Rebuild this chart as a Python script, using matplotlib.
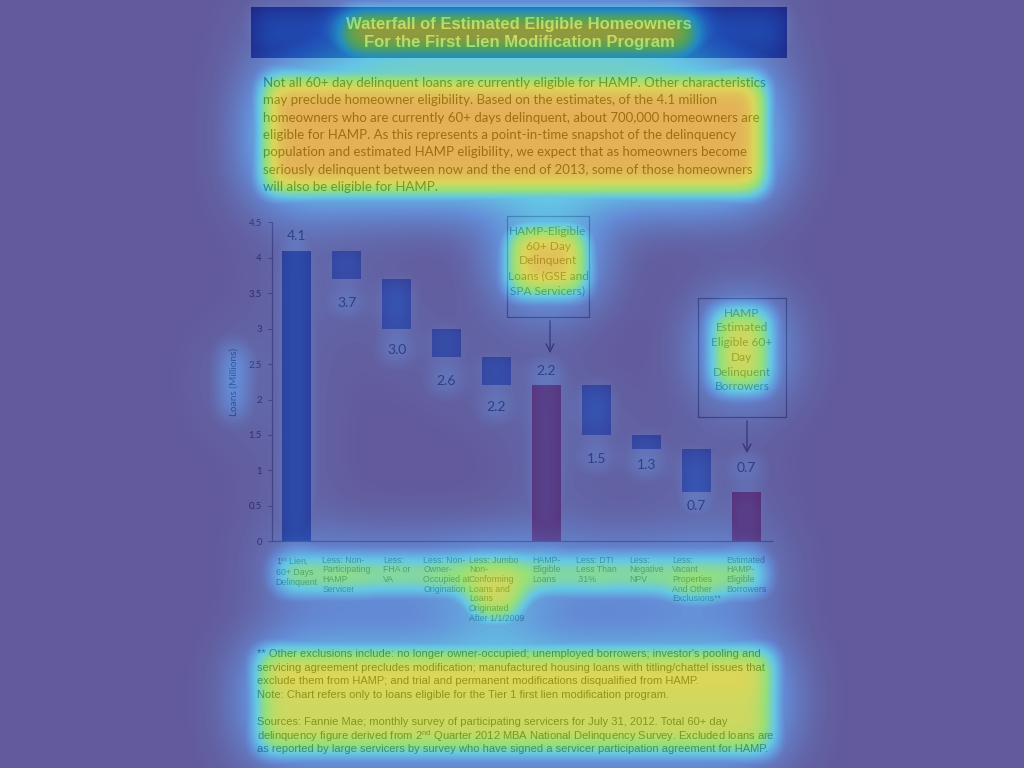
import numpy as np
import matplotlib
matplotlib.use("Agg")
import matplotlib.pyplot as plt
from matplotlib.colors import LinearSegmentedColormap
from matplotlib.patches import Rectangle, FancyArrowPatch
from matplotlib.transforms import blended_transform_factory, Bbox

plt.rcParams['mathtext.fontset'] = 'custom'
plt.rcParams['mathtext.rm'] = 'Liberation Sans'

# ---------------- data ----------------
categories = [
    "1$^{\\mathrm{st}}$ Lien,\n60+ Days\nDelinquent",
    "Less: Non-\nParticipating\nHAMP\nServicer",
    "Less:\nFHA or\nVA",
    "Less: Non-\nOwner-\nOccupied at\nOrigination",
    "Less: Jumbo\nNon-\nConforming\nLoans and\nLoans\nOriginated\nAfter 1/1/2009",
    "HAMP-\nEligible\nLoans",
    "Less: DTI\nLess Than\n 31%",
    "Less:\nNegative\nNPV",
    "Less:\nVacant\nProperties\nAnd Other\nExclusions**",
    "Estimated\nHAMP-\nEligible\nBorrowers",
]
values = [4.1, 3.7, 3.0, 2.6, 2.2, 2.2, 1.5, 1.3, 0.7, 0.7]
is_total = [True, False, False, False, False, True, False, False, False, True]
value_labels = ["4.1", "3.7", "3.0", "2.6", "2.2", "2.2", "1.5", "1.3", "0.7", "0.7"]
yticks = [0, 0.5, 1, 1.5, 2, 2.5, 3, 3.5, 4, 4.5]
ytick_labels = ["0", "0.5", "1", "1.5", "2", "2.5", "3", "3.5", "4", "4.5"]

title = "Waterfall of Estimated Eligible Homeowners\nFor the First Lien Modification Program"
intro = ("Not all 60+ day delinquent loans are currently eligible for HAMP. Other characteristics\n"
         "may preclude homeowner eligibility. Based on the estimates, of the 4.1 million\n"
         "homeowners who are currently 60+ days delinquent, about 700,000 homeowners are\n"
         "eligible for HAMP. As this represents a point-in-time snapshot of the delinquency\n"
         "population and estimated HAMP eligibility, we expect that as homeowners become\n"
         "seriously delinquent between now and the end of 2013, some of those homeowners\n"
         "will also be eligible for HAMP.")
note1 = "HAMP-Eligible\n60+ Day\nDelinquent\nLoans (GSE and\nSPA Servicers)"
note2 = "HAMP\nEstimated\nEligible 60+\nDay\nDelinquent\nBorrowers"
footnote_lines = [
    "** Other exclusions include: no longer owner-occupied; unemployed borrowers; investor's pooling and",
    "servicing agreement precludes modification; manufactured housing loans with titling/chattel issues that",
    "exclude them from HAMP; and trial and permanent modifications disqualified from HAMP.",
    "Note: Chart refers only to loans eligible for the Tier 1 first lien modification program.",
    "",
    "Sources: Fannie Mae; monthly survey of participating servicers for July 31, 2012. Total 60+ day",
    "delinquency figure derived from 2$^{\\mathrm{nd}}$ Quarter 2012 MBA National Delinquency Survey. Excluded loans are",
    "as reported by large servicers by survey who have signed a servicer participation agreement for HAMP.",
]

# label offsets in pixels (positive = above)
label_offset_px = [15, -24, -21, -24, -22, 14, -24, -16, -14, 24]

# ---------------- styling ----------------
W, H = 1024, 768
BLUE_BAR = "#7C9EE0"
FIRST_BAR = "#5E80C8"
RED_BAR = "#E0606E"
TEXT = "#3A3A3A"
LIGHT_TEXT = "#6A6A6A"

fig = plt.figure(figsize=(10.24, 7.68), dpi=100)
fig.patch.set_facecolor("white")


def fx(px):
    return px / W


def fy(py):
    return 1 - py / H


# title bar
title_bar = Rectangle((fx(251), fy(58)), (787 - 251) / W, 51 / H,
                      transform=fig.transFigure, facecolor="#3A4BA0",
                      edgecolor="none", zorder=1)
fig.add_artist(title_bar)
t_title = fig.text(fx(519), fy(33), title, ha="center", va="center",
                   color="white", fontsize=12, fontweight="bold",
                   family="Liberation Sans", linespacing=1.25, zorder=2)

t_intro = fig.text(fx(263), fy(77), intro, ha="left", va="top", color=TEXT,
                   fontsize=9.5, family="Lato", linespacing=1.535)

foot_texts = []
for k, line in enumerate(footnote_lines):
    if not line:
        continue
    t = fig.text(fx(257), fy(653.3 + 13.5 * k), line, ha="left", va="center_baseline",
                 color=TEXT, fontsize=8.0, family="Liberation Sans")
    foot_texts.append(t)

# ---------------- axes ----------------
ax = fig.add_axes([fx(271.5), fy(541.3), 500 / W, (541.3 - 222.3) / H])
ax.set_facecolor("none")
x = np.arange(len(values))
bottoms, heights, colors = [], [], []
for i, v in enumerate(values):
    if is_total[i]:
        bottoms.append(0)
        heights.append(v)
        colors.append(RED_BAR if i > 0 else FIRST_BAR)
    else:
        bottoms.append(v)
        heights.append(values[i - 1] - v)
        colors.append(BLUE_BAR)
bars = ax.bar(x, heights, bottom=bottoms, width=0.566, color=colors,
              edgecolor="none", zorder=2)

ax.set_xlim(-0.5, len(values) - 0.5)
ax.set_ylim(0, 4.5)
ax.set_yticks(yticks)
ax.set_yticklabels(ytick_labels, family="Lato", fontsize=6.8, color=LIGHT_TEXT)
ax.set_xticks([])
ax.tick_params(axis="y", length=3, width=0.8, color="#A0A0A0", pad=4)
for s in ["top", "right"]:
    ax.spines[s].set_visible(False)
for s in ["left", "bottom"]:
    ax.spines[s].set_color("#A0A0A0")
    ax.spines[s].set_linewidth(0.9)
ax.set_ylabel("Loans (Millions)", family="Lato", fontsize=7.2, color=LIGHT_TEXT)
ax.yaxis.set_label_coords(-0.066, 0.5)

value_texts = []
for i, v in enumerate(values):
    t = ax.annotate(value_labels[i], (x[i], v), xytext=(0, label_offset_px[i]),
                    textcoords="offset pixels", ha="center", va="center",
                    family="Lato", fontsize=10, color=LIGHT_TEXT)
    value_texts.append(t)

trans = blended_transform_factory(ax.transData, ax.transAxes)
cat_texts = []
for i, c in enumerate(categories):
    t = ax.text(x[i], -0.045, c, transform=trans, ha="center", va="top",
                multialignment="left", family="Liberation Sans", fontsize=6.3,
                color=LIGHT_TEXT, linespacing=1.1)
    cat_texts.append(t)

# note boxes
box_kw = dict(transform=fig.transFigure, facecolor="none", edgecolor="#909090",
              linewidth=0.9, zorder=3)
fig.add_artist(Rectangle((fx(506.5), fy(317)), 82 / W, 101 / H, **box_kw))
fig.add_artist(Rectangle((fx(698), fy(417)), 87.5 / W, 119.5 / H, **box_kw))
t_n1 = fig.text(fx(548), fy(261), note1, ha="center", va="center", family="Lato",
                fontsize=8.6, color=LIGHT_TEXT, linespacing=1.42)
t_n2 = fig.text(fx(742), fy(350), note2, ha="center", va="center", family="Lato",
                fontsize=8.6, color=LIGHT_TEXT, linespacing=1.42)
arrow_kw = dict(arrowstyle="->", color="#808080", lw=1.0, mutation_scale=14)
fig.add_artist(FancyArrowPatch((fx(550), fy(318)), (fx(550), fy(356)),
                               transform=fig.transFigure, **arrow_kw))
fig.add_artist(FancyArrowPatch((fx(747), fy(418)), (fx(747), fy(456)),
                               transform=fig.transFigure, **arrow_kw))

# ---------------- attention overlay ----------------
fig.canvas.draw()
renderer = fig.canvas.get_renderer()
R = np.zeros((H, W))


def add_bbox(bb, w, grow=0):
    x0, x1 = int(max(bb.x0 - grow, 0)), int(min(bb.x1 + grow, W))
    r0, r1 = int(max(H - bb.y1 - grow, 0)), int(min(H - bb.y0 + grow, H))
    R[r0:r1, x0:x1] = np.maximum(R[r0:r1, x0:x1], w)


def add_heat(artist, w, grow=0):
    add_bbox(artist.get_window_extent(renderer), w, grow)


add_heat(title_bar, 0.18)
add_heat(t_title, 0.84, 4)
add_heat(t_intro, 0.92, 2)
foot_bbs = [t.get_window_extent(renderer) for t in foot_texts]
add_bbox(Bbox.union(foot_bbs), 0.74, 2)
add_bbox(Bbox.union(foot_bbs[:3]), 0.8, 2)
add_heat(t_n1, 0.86)
add_heat(t_n2, 0.76)
for t in value_texts:
    add_heat(t, 0.33, 2)
for b in bars:
    add_heat(b, 0.16)
cat_union = Bbox.union([t.get_window_extent(renderer) for t in cat_texts])
add_bbox(Bbox([[cat_union.x0, cat_union.y1 - 40], [cat_union.x1, cat_union.y1]]), 0.55)
for i, t in enumerate(cat_texts):
    add_heat(t, 0.76 if i == 4 else 0.64)
add_heat(ax.yaxis.label, 0.52, 2)
for t in ax.get_yticklabels():
    add_heat(t, 0.2)


def blur(a, s):
    r = int(3 * s)
    k = np.exp(-np.arange(-r, r + 1) ** 2 / (2.0 * s * s))
    k /= k.sum()
    a = np.apply_along_axis(lambda v: np.convolve(v, k, mode="same"), 1, a)
    a = np.apply_along_axis(lambda v: np.convolve(v, k, mode="same"), 0, a)
    return a


heat = np.maximum(blur(R, 13), 0.72 * blur(R, 32))
heat = np.clip(heat, 0, 1)

stops = [(0.0, (17, 5, 103)), (0.2, (20, 81, 194)), (0.4, (20, 171, 217)),
         (0.6, (96, 209, 50)), (0.78, (202, 194, 5)), (0.95, (217, 126, 0)),
         (1.0, (217, 110, 0))]
cmap = LinearSegmentedColormap.from_list(
    "att", [(p, tuple(c / 255 for c in col)) for p, col in stops])
rgba = cmap(heat)
rgba[..., 3] = 0.66

ov = fig.add_axes([0, 0, 1, 1], zorder=100)
ov.imshow(rgba, extent=(0, W, H, 0), aspect="auto", interpolation="bilinear")
ov.set_xlim(0, W)
ov.set_ylim(H, 0)
ov.axis("off")

fig.savefig("out.png", dpi=100)
